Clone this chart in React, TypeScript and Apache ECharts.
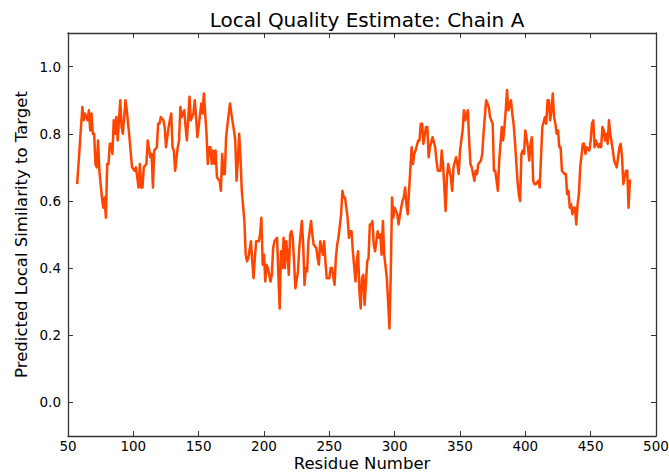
import React, { useEffect, useRef } from "react";
import * as echarts from "echarts";

const residues: number[] = [
  57, 61, 62, 63, 65, 66, 67, 68, 69, 70, 71, 72, 73, 74, 76, 77, 78, 79, 80, 81,
  82, 83, 84, 85, 86, 87, 88, 90, 91, 92, 94, 95, 97, 99, 101, 102, 104, 105, 106, 107,
  108, 110, 111, 113, 114, 115, 116, 118, 119, 120, 121, 123, 124, 125, 127, 129, 130, 131, 132, 134,
  135, 136, 137, 139, 140, 141, 143, 144, 146, 147, 148, 149, 150, 152, 153, 154, 155, 156, 157, 158,
  159, 160, 161, 162, 163, 164, 166, 167, 168, 169, 170, 171, 173, 174, 175, 177, 178, 179, 180, 181,
  182, 183, 185, 186, 187, 188, 190, 191, 192, 193, 194, 196, 197, 198, 199, 200, 201, 202, 203, 205,
  206, 207, 208, 210, 211, 212, 213, 214, 215, 216, 217, 218, 219, 220, 221, 222, 223, 224, 226, 227,
  229, 230, 231, 232, 233, 234, 236, 237, 238, 240, 241, 242, 243, 245, 246, 247, 248, 250, 251, 252,
  254, 255, 256, 257, 259, 260, 261, 262, 264, 265, 266, 267, 268, 270, 271, 272, 273, 274, 275, 276,
  277, 279, 280, 281, 282, 283, 284, 285, 287, 288, 289, 290, 291, 292, 294, 295, 296, 297, 298, 299,
  300, 302, 303, 305, 306, 307, 308, 309, 310, 311, 313, 314, 315, 316, 318, 319, 320, 321, 322, 324,
  325, 326, 327, 329, 331, 332, 333, 335, 336, 337, 338, 339, 340, 341, 343, 344, 345, 347, 348, 349,
  350, 352, 353, 354, 356, 357, 358, 359, 361, 362, 363, 364, 366, 367, 368, 369, 370, 371, 372, 373,
  375, 376, 377, 378, 379, 380, 382, 383, 384, 385, 386, 387, 389, 390, 391, 392, 394, 395, 396, 397,
  398, 399, 400, 402, 403, 404, 405, 406, 407, 408, 410, 411, 412, 413, 415, 416, 417, 418, 419, 420,
  421, 422, 423, 424, 425, 426, 427, 428, 430, 431, 432, 433, 434, 435, 436, 437, 438, 439, 440, 441,
  442, 444, 445, 446, 447, 449, 450, 451, 452, 453, 454, 456, 457, 458, 459, 460, 461, 462, 463, 464,
  465, 467, 468, 469, 470, 472, 473, 474, 475, 477, 478, 479, 480, 481,
];

const scores: number[] = [
  0.65, 0.88, 0.84, 0.86, 0.84, 0.87, 0.81, 0.86, 0.8, 0.8, 0.71, 0.7, 0.78, 0.69, 0.61, 0.58, 0.61, 0.55, 0.71, 0.71,
  0.77, 0.77, 0.74, 0.84, 0.8, 0.85, 0.78, 0.9, 0.82, 0.8, 0.9, 0.87, 0.79, 0.7, 0.69, 0.7, 0.64, 0.71, 0.64, 0.64,
  0.7, 0.71, 0.78, 0.73, 0.74, 0.64, 0.75, 0.76, 0.83, 0.83, 0.85, 0.84, 0.82, 0.76, 0.82, 0.86, 0.76, 0.75, 0.69, 0.76,
  0.78, 0.88, 0.85, 0.87, 0.82, 0.78, 0.91, 0.84, 0.86, 0.9, 0.85, 0.79, 0.82, 0.89, 0.86, 0.92, 0.86, 0.8, 0.71, 0.76,
  0.76, 0.71, 0.75, 0.71, 0.75, 0.67, 0.66, 0.63, 0.74, 0.68, 0.68, 0.79, 0.86, 0.89, 0.86, 0.81, 0.78, 0.66, 0.72, 0.8,
  0.73, 0.63, 0.54, 0.44, 0.42, 0.43, 0.48, 0.42, 0.37, 0.43, 0.48, 0.48, 0.5, 0.55, 0.41, 0.44, 0.36, 0.41, 0.4, 0.36,
  0.38, 0.46, 0.48, 0.49, 0.38, 0.28, 0.45, 0.4, 0.49, 0.4, 0.48, 0.44, 0.38, 0.5, 0.51, 0.49, 0.42, 0.34, 0.39, 0.46,
  0.54, 0.47, 0.35, 0.4, 0.39, 0.48, 0.54, 0.5, 0.47, 0.46, 0.43, 0.41, 0.48, 0.44, 0.48, 0.42, 0.37, 0.37, 0.4, 0.4,
  0.35, 0.43, 0.47, 0.49, 0.56, 0.63, 0.61, 0.61, 0.55, 0.49, 0.51, 0.51, 0.45, 0.36, 0.42, 0.45, 0.33, 0.28, 0.37, 0.38,
  0.29, 0.42, 0.43, 0.53, 0.53, 0.54, 0.47, 0.45, 0.51, 0.49, 0.5, 0.44, 0.54, 0.44, 0.37, 0.3, 0.22, 0.38, 0.61, 0.55,
  0.58, 0.56, 0.53, 0.58, 0.6, 0.61, 0.64, 0.59, 0.56, 0.63, 0.76, 0.71, 0.74, 0.75, 0.78, 0.78, 0.83, 0.83, 0.77, 0.82,
  0.82, 0.73, 0.76, 0.79, 0.76, 0.72, 0.69, 0.69, 0.75, 0.71, 0.64, 0.57, 0.67, 0.71, 0.67, 0.63, 0.7, 0.73, 0.71, 0.68,
  0.75, 0.81, 0.87, 0.84, 0.87, 0.78, 0.71, 0.7, 0.66, 0.69, 0.68, 0.71, 0.72, 0.74, 0.8, 0.85, 0.9, 0.89, 0.88, 0.85,
  0.83, 0.69, 0.69, 0.66, 0.63, 0.72, 0.82, 0.78, 0.82, 0.87, 0.93, 0.87, 0.9, 0.86, 0.83, 0.78, 0.66, 0.62, 0.6, 0.74,
  0.75, 0.74, 0.81, 0.76, 0.72, 0.77, 0.79, 0.66, 0.65, 0.65, 0.66, 0.64, 0.73, 0.82, 0.85, 0.83, 0.9, 0.9, 0.84, 0.87,
  0.92, 0.85, 0.83, 0.8, 0.81, 0.76, 0.76, 0.69, 0.68, 0.68, 0.62, 0.63, 0.58, 0.59, 0.56, 0.58, 0.58, 0.53, 0.59, 0.62,
  0.7, 0.77, 0.77, 0.74, 0.76, 0.75, 0.78, 0.83, 0.84, 0.76, 0.78, 0.76, 0.77, 0.76, 0.82, 0.81, 0.78, 0.8, 0.77, 0.84,
  0.8, 0.75, 0.72, 0.71, 0.7, 0.76, 0.77, 0.73, 0.65, 0.69, 0.69, 0.58, 0.66, 0.66,
];

const yTickValues: number[] = [0.0, 0.2, 0.4, 0.6, 0.8, 1.0];

const FONT = "DejaVu Sans";
const AXIS_COLOR = "#333";

export default function App() {
  const ref = useRef<HTMLDivElement>(null);

  useEffect(() => {
    if (!ref.current) return;
    const chart = echarts.init(ref.current, undefined, { renderer: "svg" });
    const data = residues.map((r, i) => [r, scores[i]]);

    const axisLine = { show: true, onZero: false, lineStyle: { color: AXIS_COLOR, width: 1.3 } };
    const tick = { show: true, inside: true, length: 5, lineStyle: { color: AXIS_COLOR, width: 1 } };

    chart.setOption({
      animation: false,
      backgroundColor: "#fff",
      title: {
        text: "Local Quality Estimate: Chain A",
        left: 362,
        top: 5,
        textAlign: "center",
        textStyle: { fontFamily: FONT, fontSize: 20, fontWeight: "normal", color: "#000" },
      },
      grid: {
        left: 68,
        right: 13,
        top: 33,
        bottom: 36,
        containLabel: false,
        outerBoundsMode: "none",
      },
      xAxis: [
        {
          type: "value",
          min: 50,
          max: 500,
          interval: 50,
          position: "bottom",
          name: "Residue Number",
          nameLocation: "middle",
          nameGap: 19,
          nameMoveOverlap: false,
          nameTextStyle: { fontFamily: FONT, fontSize: 16.5, color: "#000" },
          axisLine,
          axisTick: tick,
          axisLabel: { fontFamily: FONT, fontSize: 13.5, color: "#000", margin: 3 },
          splitLine: { show: false },
        },
        {
          type: "value",
          min: 50,
          max: 500,
          interval: 50,
          position: "top",
          axisLine,
          axisTick: tick,
          axisLabel: { show: false },
          splitLine: { show: false },
        },
      ],
      yAxis: [
        {
          type: "value",
          min: -0.1,
          max: 1.1,
          position: "left",
          name: "Predicted Local Similarity to Target",
          nameLocation: "middle",
          nameGap: 38,
          nameMoveOverlap: false,
          nameTextStyle: { fontFamily: FONT, fontSize: 16.5, color: "#000" },
          axisLine,
          axisTick: { ...tick, customValues: yTickValues },
          axisLabel: {
            fontFamily: FONT,
            fontSize: 13.5,
            color: "#000",
            margin: 7,
            customValues: yTickValues,
            formatter: (v: number) => v.toFixed(1),
          },
          splitLine: { show: false },
        },
        {
          type: "value",
          min: -0.1,
          max: 1.1,
          position: "right",
          axisLine,
          axisTick: { ...tick, customValues: yTickValues },
          axisLabel: { show: false, customValues: yTickValues },
          splitLine: { show: false },
        },
      ],
      series: [
        {
          type: "line",
          data,
          xAxisIndex: 0,
          yAxisIndex: 0,
          showSymbol: false,
          symbol: "none",
          lineStyle: { color: "#FF4500", width: 2.5, join: "round" },
          itemStyle: { color: "#FF4500" },
        },
      ],
    });

    return () => chart.dispose();
  }, []);

  return (
    <div
      ref={ref}
      style={{ position: "fixed", left: 0, top: 0, width: 669, height: 472, background: "#fff" }}
    />
  );
}
